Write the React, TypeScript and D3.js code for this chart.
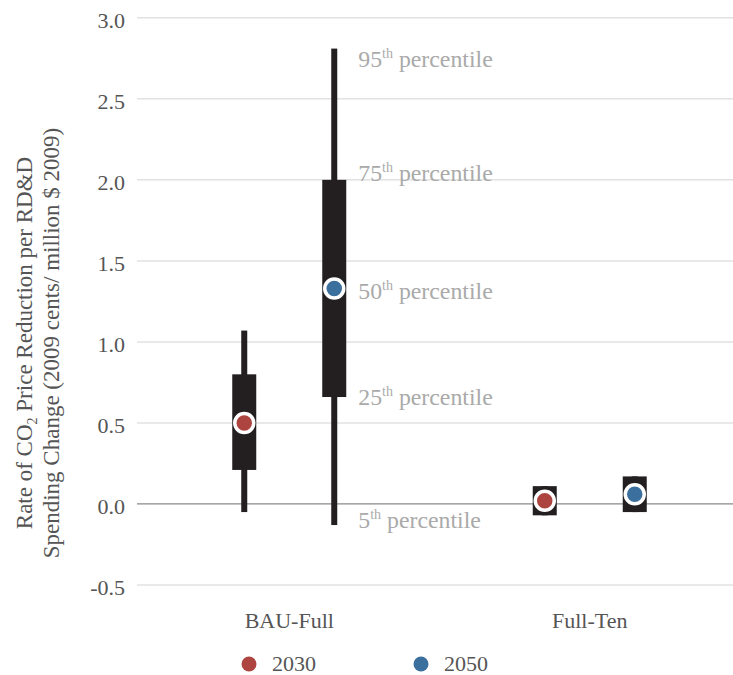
import React from "react";
import * as d3 from "d3";

const categories = ["BAU-Full", "Full-Ten"];
const years = ["2030", "2050"];
const yearColors = ["#ae4440", "#3b6f9e"];
// percentile stats per year, per category
const p5 = [[-0.05, -0.07], [-0.13, -0.05]];
const p25 = [[0.21, -0.07], [0.66, -0.05]];
const p50 = [[0.5, 0.02], [1.33, 0.06]];
const p75 = [[0.8, 0.11], [2.0, 0.17]];
const p95 = [[1.07, 0.11], [2.81, 0.17]];
const yTicks = [-0.5, 0, 0.5, 1.0, 1.5, 2.0, 2.5, 3.0];
const percentileNames = ["95", "75", "50", "25", "5"];

const W = 733;
const H = 675;
const FONT = "'Liberation Serif', 'DejaVu Serif', serif";

export default function App() {
  const y = d3.scaleLinear().domain([-0.5, 3.0]).range([585, 17.8]);
  const x = d3.scaleBand().domain(categories).range([139, 740]).padding(0);
  const sub = d3.scalePoint().domain(years).range([-45, 45]);
  const cx = (c: string, yr: string) => (x(c) as number) + x.bandwidth() / 2 + (sub(yr) as number);
  const fmt = (t: number) => d3.format(".1f")(t).replace("\u2212", "-");

  const boxW = 24;
  const whiskW = 6;

  // labels anchored to the BAU-Full 2050 distribution
  const refC = 0;
  const refY = 1;
  const labelVals = [p95[refY][refC], p75[refY][refC], p50[refY][refC], p25[refY][refC], p5[refY][refC]];
  const labelDy = [18, 1, 11, 8, 3];
  const labelX = cx(categories[refC], years[refY]) + 24;

  return (
    <svg width={W} height={H} style={{ position: "absolute", left: 0, top: 0, fontFamily: FONT }}>
      {/* gridlines */}
      {yTicks.map((t) => (
        <line key={"g" + t} x1={137} x2={W} y1={y(t)} y2={y(t)}
          stroke={t === 0 ? "#8a8a8a" : "#e2e2e2"} strokeWidth={t === 0 ? 1.2 : 1.5} />
      ))}
      {/* tick labels */}
      {yTicks.map((t) => (
        <text key={"t" + t} x={125} y={y(t) + 10} textAnchor="end" fontSize={22} fill="#555">
          {fmt(t)}
        </text>
      ))}
      {/* y title */}
      <text transform={`translate(31.5,343) rotate(-90)`} textAnchor="middle" fontSize={23} fill="#555">
        Rate of CO<tspan fontSize={14} dy={5}>2</tspan><tspan dy={-5}> Price Reduction per RD&amp;D</tspan>
      </text>
      <text transform={`translate(59,343) rotate(-90)`} textAnchor="middle" fontSize={23} fill="#555">
        Spending Change (2009 cents/ million $ 2009)
      </text>
      {/* boxes */}
      {years.map((yr, si) =>
        categories.map((c, ci) => {
          const X = cx(c, yr);
          return (
            <g key={yr + c}>
              <rect x={X - whiskW / 2} y={y(p95[si][ci])} width={whiskW}
                height={y(p5[si][ci]) - y(p95[si][ci])} fill="#231f20" />
              <rect x={X - boxW / 2} y={y(p75[si][ci])} width={boxW}
                height={y(p25[si][ci]) - y(p75[si][ci])} fill="#231f20" />
              <circle cx={X} cy={y(p50[si][ci])} r={9.5} fill={yearColors[si]} stroke="#fff" strokeWidth={3.5} />
            </g>
          );
        })
      )}
      {/* percentile labels */}
      {percentileNames.map((n, i) => (
        <text key={"p" + n} x={labelX} y={y(labelVals[i]) + labelDy[i]} fontSize={23.8} fill="#aaa">
          {n}<tspan fontSize={14} dy={-9}>th</tspan><tspan dy={9}> percentile</tspan>
        </text>
      ))}
      {/* x labels */}
      {categories.map((c) => (
        <text key={"x" + c} x={(x(c) as number) + x.bandwidth() / 2} y={628} textAnchor="middle" fontSize={22} fill="#555">
          {c}
        </text>
      ))}
      {/* legend */}
      {years.map((yr, i) => (
        <g key={"l" + yr} transform={`translate(${249 + i * 172},664)`}>
          <circle cx={0} cy={0} r={7.5} fill={yearColors[i]} />
          <text x={23} y={7} fontSize={22} fill="#555">{yr}</text>
        </g>
      ))}
    </svg>
  );
}
